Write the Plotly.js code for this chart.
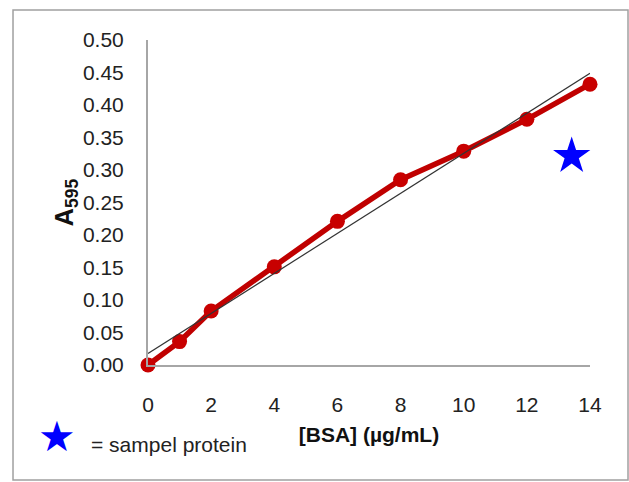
<!DOCTYPE html>
<html>
<head>
<meta charset="utf-8">
<script src="https://cdn.plot.ly/plotly-3.0.1.min.js"></script>
<style>html,body{margin:0;padding:0;background:#fff;}#chart{width:629px;height:482px;}</style>
</head>
<body>
<div id="chart"></div>
<script>
// BSA standard curve data
const bsaConc = [0, 1, 2, 4, 6, 8, 10, 12, 14];
const absorbance = [0, 0.036, 0.083, 0.151, 0.221, 0.285, 0.329, 0.378, 0.432];
const sampleConc = [13.42];
const sampleAbs = [0.3215];
const xTicks = [0, 2, 4, 6, 8, 10, 12, 14];
const yTicks = [0, 0.05, 0.10, 0.15, 0.20, 0.25, 0.30, 0.35, 0.40, 0.45, 0.50];

// linear regression trendline from the data
const n = bsaConc.length;
const mx = bsaConc.reduce((a,b)=>a+b,0)/n;
const my = absorbance.reduce((a,b)=>a+b,0)/n;
let sxy=0, sxx=0;
for(let i=0;i<n;i++){sxy+=(bsaConc[i]-mx)*(absorbance[i]-my);sxx+=(bsaConc[i]-mx)**2;}
const slope = sxy/sxx, intercept = my - slope*mx;
const trendX = [bsaConc[0], bsaConc[n-1]];
const trendY = trendX.map(x=>intercept+slope*x);

const font = 'Liberation Sans, Arial, sans-serif';
const data = [
  {x: bsaConc, y: absorbance, type:'scatter', mode:'lines+markers',
   line:{color:'#c00000', width:5.5}, marker:{color:'#c80000', size:15}, cliponaxis:false, showlegend:false},
  {x: trendX, y: trendY, type:'scatter', mode:'lines',
   line:{color:'#333333', width:1.2}, cliponaxis:false, showlegend:false},
  {x: sampleConc, y: sampleAbs, type:'scatter', mode:'markers',
   marker:{symbol:'star', color:'#0000ff', size:28, line:{width:0}}, cliponaxis:false, showlegend:false}
];
const layout = {
  width:629, height:482,
  margin:{l:148, r:39, t:40, b:117},
  paper_bgcolor:'#fff', plot_bgcolor:'#fff',
  font:{family:font, color:'#222', size:20},
  xaxis:{range:[0,14], tickvals:xTicks, ticktext:xTicks.map(String), showgrid:false, zeroline:false,
    showline:true, linecolor:'#a6a6a6', linewidth:2, ticks:'', ticklabelstandoff:20,
    tickfont:{size:21, family:font, color:'#222'},
    title:{text:'<b>[BSA] (µg/mL)</b>', font:{size:21, family:font, color:'#111'}, standoff:12},
    automargin:false, fixedrange:true},
  yaxis:{range:[0,0.5], tickvals:yTicks, ticktext:yTicks.map(v=>v.toFixed(2)), showgrid:false, zeroline:false,
    showline:true, linecolor:'#a6a6a6', linewidth:2, ticks:'', ticklabelstandoff:18,
    tickfont:{size:21, family:font, color:'#222'},
    title:{text:'<b>A<sub>595</sub></b>', font:{size:25, family:font, color:'#111'}, standoff:2},
    automargin:false, fixedrange:true},
  shapes:[
    {type:'rect', xref:'paper', yref:'paper', x0:-0.3054, x1:1.086, y0:-0.354, y1:1.0923,
     line:{color:'#a0a0a0', width:1.5}, fillcolor:'rgba(0,0,0,0)', layer:'below'}
  ],
  annotations:[
    {xref:'paper', yref:'paper', x:(57-148)/442, y:(365-436)/325, text:'★', showarrow:false,
     font:{family:'DejaVu Sans', size:42, color:'#0000ff'}, xanchor:'center', yanchor:'middle'},
    {xref:'paper', yref:'paper', x:(89-148)/442, y:(365-444)/325, text:'= sampel protein', showarrow:false,
     font:{family:font, size:21, color:'#222'}, xanchor:'left', yanchor:'middle'}
  ],
  showlegend:false
};
Plotly.newPlot('chart', data, layout, {displayModeBar:false, staticPlot:true});
</script>
</body>
</html>
